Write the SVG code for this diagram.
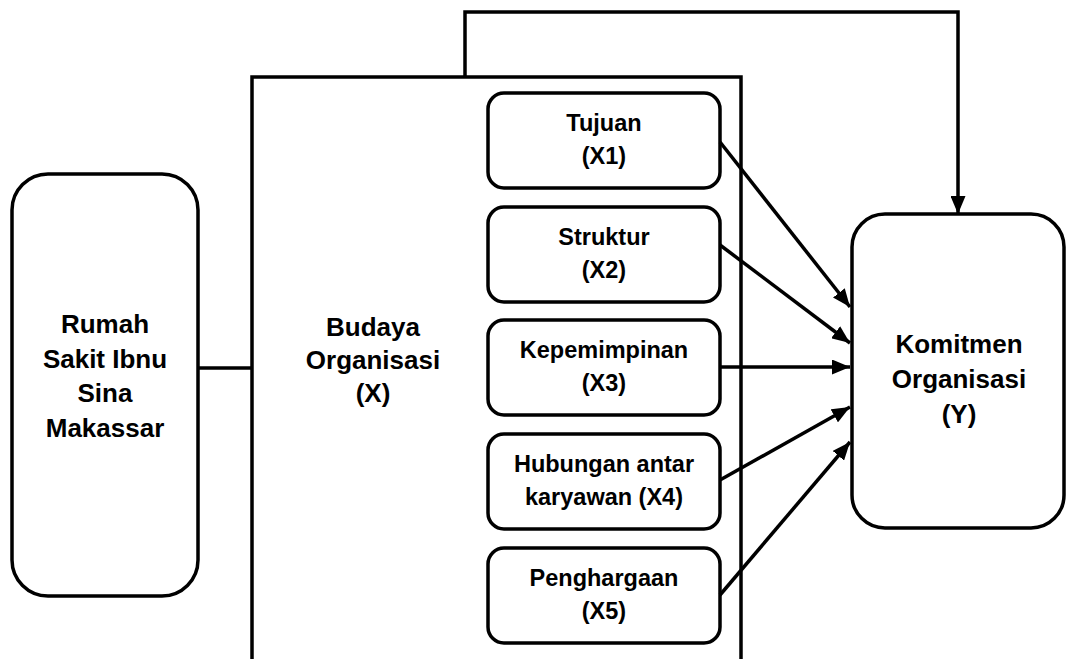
<svg xmlns="http://www.w3.org/2000/svg" width="1066" height="659" viewBox="0 0 1066 659">
<defs>
<style>
.box{fill:#fff;stroke:#000;stroke-width:3.5}
.ln{fill:none;stroke:#000;stroke-width:3.5}
.t{font-family:"Liberation Sans",Arial,sans-serif;font-weight:bold;fill:#000;text-anchor:middle}
.s{font-size:23.5px}
.b{font-size:26px}
</style>
<marker id="ah" markerUnits="userSpaceOnUse" markerWidth="18" markerHeight="15" refX="18" refY="7.5" orient="auto">
<path d="M0,0 L18,7.5 L0,15 z" fill="#000"/>
</marker>
</defs>
<rect width="1066" height="659" fill="#fff"/>
<g id="budaya">
<rect class="box" x="252" y="77" width="489" height="640"/>
<text class="t b" x="373" y="336">Budaya</text>
<text class="t b" x="373" y="369">Organisasi</text>
<text class="t b" x="373" y="402">(X)</text>
</g>
<g id="rumah-sakit">
<rect class="box" x="12" y="174" width="186" height="422" rx="36"/>
<text class="t b" x="105" y="333">Rumah</text>
<text class="t b" x="105" y="368">Sakit Ibnu</text>
<text class="t b" x="105" y="402">Sina</text>
<text class="t b" x="105" y="437">Makassar</text>
</g>
<g id="komitmen">
<rect class="box" x="852" y="214" width="212" height="314" rx="33"/>
<text class="t b" x="959" y="353">Komitmen</text>
<text class="t b" x="959" y="388">Organisasi</text>
<text class="t b" x="959" y="423">(Y)</text>
</g>
<g id="x1">
<rect class="box" x="488" y="93" width="232" height="95" rx="16"/>
<text class="t s" x="604" y="131">Tujuan</text>
<text class="t s" x="604" y="164">(X1)</text>
</g>
<g id="x2">
<rect class="box" x="488" y="207" width="232" height="95" rx="16"/>
<text class="t s" x="604" y="245">Struktur</text>
<text class="t s" x="604" y="278">(X2)</text>
</g>
<g id="x3">
<rect class="box" x="488" y="320" width="232" height="95" rx="16"/>
<text class="t s" x="604" y="358">Kepemimpinan</text>
<text class="t s" x="604" y="391">(X3)</text>
</g>
<g id="x4">
<rect class="box" x="488" y="434" width="232" height="95" rx="16"/>
<text class="t s" x="604" y="472">Hubungan antar</text>
<text class="t s" x="604" y="505">karyawan (X4)</text>
</g>
<g id="x5">
<rect class="box" x="488" y="548" width="232" height="95" rx="16"/>
<text class="t s" x="604" y="586">Penghargaan</text>
<text class="t s" x="604" y="619">(X5)</text>
</g>
<g id="connectors">
<path class="ln" d="M198,368 H252"/>
<path class="ln" d="M465,77 V12 H958 V214" marker-end="url(#ah)"/>
<path class="ln" d="M720,142 L850,307" marker-end="url(#ah)"/>
<path class="ln" d="M720,245 L850,343" marker-end="url(#ah)"/>
<path class="ln" d="M720,367 L850,367" marker-end="url(#ah)"/>
<path class="ln" d="M720,480 L850,407" marker-end="url(#ah)"/>
<path class="ln" d="M720,595 L850,442" marker-end="url(#ah)"/>
</g>
</svg>
